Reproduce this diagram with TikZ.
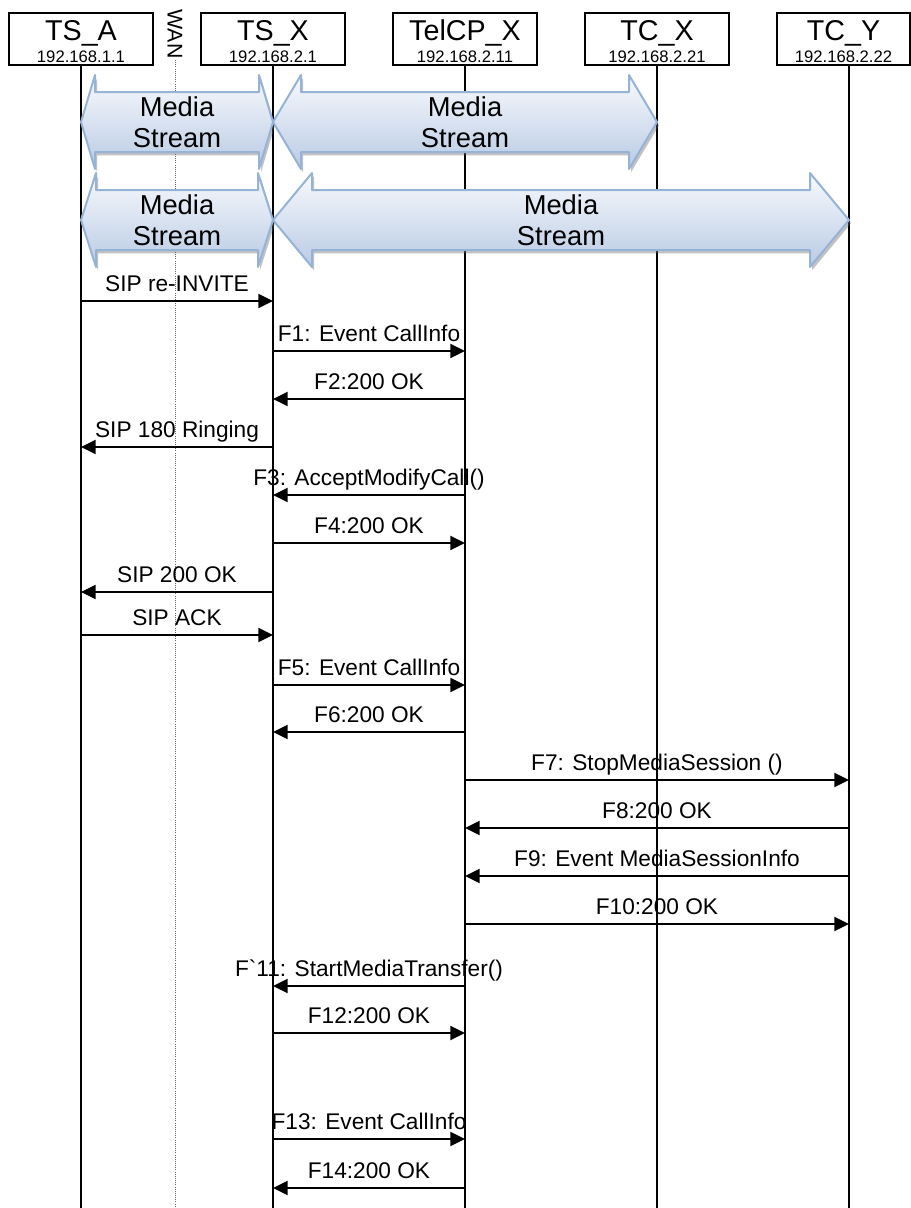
\documentclass[tikz,border=0pt]{standalone}
\usepackage{fontspec}
\setmainfont{Liberation Sans}
\usetikzlibrary{arrows.meta, shadows}
\definecolor{streamedge}{RGB}{149,179,215}
\definecolor{streamtop}{RGB}{248,250,253}
\definecolor{streambottom}{RGB}{185,202,228}
\tikzstyle{entity} = [rectangle, draw=black, line width=1.5pt, minimum width=108pt, minimum height=39pt, inner sep=0pt, align=center, font=\fontsize{21.5}{15}\selectfont]
\tikzstyle{lifeline} = [line width=1.2pt]
\tikzstyle{wanline} = [densely dotted, line width=0.6pt, black!60]
\tikzstyle{msg} = [line width=1.6pt, -{Triangle[length=11pt, width=10.5pt]}]
\tikzstyle{msglabel} = [midway, anchor=base, yshift=7.5pt, inner sep=0pt, font=\fontsize{17}{20}\selectfont]
\tikzstyle{stream} = [draw=streamedge, line width=1.5pt, line join=round, top color=streamtop, bottom color=streambottom, drop shadow={shadow xshift=1.5pt, shadow yshift=-2.5pt, opacity=0.4, fill=black!60}]
\tikzstyle{streamtext} = [align=center, inner sep=0pt, font=\fontsize{20.5}{23}\selectfont]
\newcommand{\entitytext}[2]{\rule{0pt}{19pt}#1\\[1.5pt]{\fontsize{12.5}{13}\selectfont #2}}
% #1 name, #2 left x, #3 right x, #4 centre y, #5 head length
\newcommand{\mediastream}[5]{%
  \path[stream] (#2,#4) -- ({#2+#5},{#4-47}) -- ({#2+#5},{#4-30}) -- ({#3-#5},{#4-30})
    -- ({#3-#5},{#4-47}) -- (#3,#4) -- ({#3-#5},{#4+47}) -- ({#3-#5},{#4+30})
    -- ({#2+#5},{#4+30}) -- ({#2+#5},{#4+47}) -- cycle;
  \node[streamtext] (#1) at ({(#2+#3)/2},#4) {Media\\Stream};}

\begin{document}
\begin{tikzpicture}[x=0.75pt, y=-0.75pt]
    \useasboundingbox (0,0) rectangle (911,1208);
    % Entities
    \node (tsa) [entity] at (81,39) {\entitytext{TS\_A}{192.168.1.1}};
    \node (tsx) [entity] at (273,39) {\entitytext{TS\_X}{192.168.2.1}};
    \node (telcp) [entity] at (465,39) {\entitytext{TelCP\_X}{192.168.2.11}};
    \node (tcx) [entity] at (657,39) {\entitytext{TC\_X}{192.168.2.21}};
    \node (tcy) [entity, minimum width=99.75pt] at (843.5,39) {\entitytext{TC\_Y}{192.168.2.22}};
    \node (wan) [rotate=-90, inner sep=1pt, font=\fontsize{16}{16}\selectfont] at (175,34) {WAN};
    \coordinate (tcyline) at (849,65);

    % Lifelines
    \draw [wanline] (wan.east) -- (wan.east |- 0,1208);
    \draw [lifeline] (tsa.south) -- (tsa.south |- 0,1208);
    \draw [lifeline] (tsx.south) -- (tsx.south |- 0,1208);
    \draw [lifeline] (telcp.south) -- (telcp.south |- 0,1208);
    \draw [lifeline] (tcx.south) -- (tcx.south |- 0,1208);
    \draw [lifeline] (tcyline) -- (tcyline |- 0,1208);

    % Media streams
    \mediastream{ms1}{81}{273}{122}{14}
    \mediastream{ms2}{273}{657}{122}{28}
    \mediastream{ms3}{81}{273}{220}{15}
    \mediastream{ms4}{273}{849}{220}{39}

    % Messages
    \draw [msg] (tsa |- 0,301) -- (tsx |- 0,301) node[msglabel] {SIP re-INVITE};
    \draw [msg] (tsx |- 0,351) -- (telcp |- 0,351) node[msglabel] {F1: Event CallInfo};
    \draw [msg] (telcp |- 0,399) -- (tsx |- 0,399) node[msglabel] {F2:200 OK};
    \draw [msg] (tsx |- 0,447) -- (tsa |- 0,447) node[msglabel] {SIP 180 Ringing};
    \draw [msg] (telcp |- 0,495) -- (tsx |- 0,495) node[msglabel] {F3: AcceptModifyCall()};
    \draw [msg] (tsx |- 0,543) -- (telcp |- 0,543) node[msglabel] {F4:200 OK};
    \draw [msg] (tsx |- 0,592) -- (tsa |- 0,592) node[msglabel] {SIP 200 OK};
    \draw [msg] (tsa |- 0,635) -- (tsx |- 0,635) node[msglabel] {SIP ACK};
    \draw [msg] (tsx |- 0,685) -- (telcp |- 0,685) node[msglabel] {F5: Event CallInfo};
    \draw [msg] (telcp |- 0,732) -- (tsx |- 0,732) node[msglabel] {F6:200 OK};
    \draw [msg] (telcp |- 0,780) -- (tcyline |- 0,780) node[msglabel] {F7: StopMediaSession ()};
    \draw [msg] (tcyline |- 0,828) -- (telcp |- 0,828) node[msglabel] {F8:200 OK};
    \draw [msg] (tcyline |- 0,876) -- (telcp |- 0,876) node[msglabel] {F9: Event MediaSessionInfo};
    \draw [msg] (telcp |- 0,924) -- (tcyline |- 0,924) node[msglabel] {F10:200 OK};
    \draw [msg] (telcp |- 0,986) -- (tsx |- 0,986) node[msglabel] {F\textasciigrave 11: StartMediaTransfer()};
    \draw [msg] (tsx |- 0,1033) -- (telcp |- 0,1033) node[msglabel] {F12:200 OK};
    \draw [msg] (tsx |- 0,1139) -- (telcp |- 0,1139) node[msglabel] {F13: Event CallInfo};
    \draw [msg] (telcp |- 0,1188) -- (tsx |- 0,1188) node[msglabel] {F14:200 OK};
\end{tikzpicture}
\end{document}
